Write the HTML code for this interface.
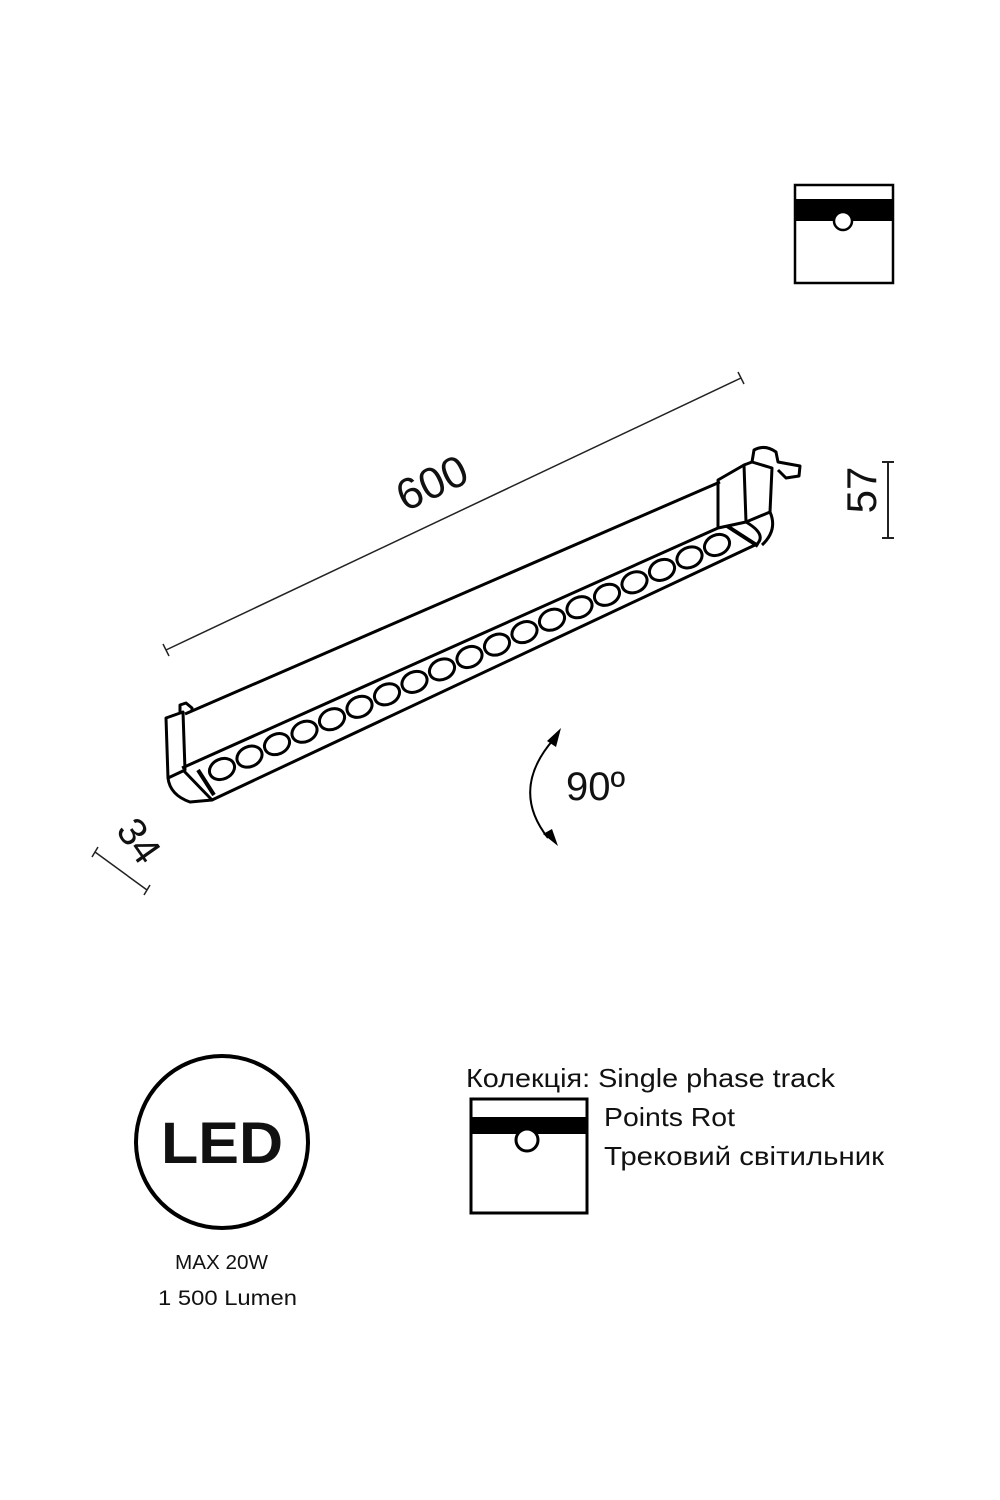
<!DOCTYPE html>
<html><head><meta charset="utf-8"><style>
html,body{margin:0;padding:0;background:#fff;}
svg{display:block;}
text{font-family:"Liberation Sans","DejaVu Sans",sans-serif;fill:#111;}
</style></head><body>
<svg width="1000" height="1500" viewBox="0 0 1000 1500" xmlns="http://www.w3.org/2000/svg">
<rect x="795" y="185" width="98" height="98" fill="none" stroke="#000" stroke-width="2.5"/>
<rect x="795" y="199" width="98" height="22" fill="#000"/>
<circle cx="843" cy="221" r="9" fill="#fff" stroke="#000" stroke-width="2.5"/>

<g stroke="#222" stroke-width="1.5" fill="none">
<line x1="166" y1="650" x2="741" y2="378"/>
<line x1="163" y1="644" x2="169" y2="656"/>
<line x1="738" y1="372" x2="744" y2="384"/>
</g>
<text x="432" y="498" font-size="44" transform="rotate(-25 432 483)" text-anchor="middle">600</text>

<g stroke="#000" stroke-width="3" fill="none" stroke-linejoin="round">
<line x1="185" y1="714" x2="720" y2="482"/>
<line x1="182" y1="768" x2="718" y2="528"/>
<line x1="212" y1="800" x2="755" y2="545"/>
<path d="M166 718 L183 712 L185 770 L168 778 Z"/>
<path d="M168 778 Q170 795 190 802 L212 800 L183 770"/>
<line x1="198" y1="770" x2="214" y2="795" stroke-width="4"/>
<path d="M180 712 L180 705 L186 703 L192 708 L192 712"/>
<path d="M718 480 L744 465 L746 522 L718 528 Z"/>
<path d="M744 465 L752 462 L772 468 L770 512 L746 522"/>
<path d="M746 522 Q768 535 756 545"/>
<path d="M770 512 Q778 530 762 545"/>
<line x1="727" y1="526" x2="758" y2="546" stroke-width="4"/>
<path d="M752 462 L754 450 Q765 444 776 452 L778 462 L800 466 L799 476 L786 478 L778 470"/>
</g>
<g stroke="#000" stroke-width="3" fill="#fff">
<ellipse cx="222" cy="769" rx="13" ry="10" transform="rotate(-24 222 769)"/>
<ellipse cx="249.5" cy="756.6" rx="13" ry="10" transform="rotate(-24 249.5 756.6)"/>
<ellipse cx="277" cy="744.1" rx="13" ry="10" transform="rotate(-24 277 744.1)"/>
<ellipse cx="304.5" cy="731.7" rx="13" ry="10" transform="rotate(-24 304.5 731.7)"/>
<ellipse cx="332" cy="719.2" rx="13" ry="10" transform="rotate(-24 332 719.2)"/>
<ellipse cx="359.5" cy="706.8" rx="13" ry="10" transform="rotate(-24 359.5 706.8)"/>
<ellipse cx="387" cy="694.3" rx="13" ry="10" transform="rotate(-24 387 694.3)"/>
<ellipse cx="414.5" cy="681.9" rx="13" ry="10" transform="rotate(-24 414.5 681.9)"/>
<ellipse cx="442" cy="669.4" rx="13" ry="10" transform="rotate(-24 442 669.4)"/>
<ellipse cx="469.5" cy="657" rx="13" ry="10" transform="rotate(-24 469.5 657)"/>
<ellipse cx="497" cy="644.6" rx="13" ry="10" transform="rotate(-24 497 644.6)"/>
<ellipse cx="524.5" cy="632.1" rx="13" ry="10" transform="rotate(-24 524.5 632.1)"/>
<ellipse cx="552" cy="619.7" rx="13" ry="10" transform="rotate(-24 552 619.7)"/>
<ellipse cx="579.5" cy="607.2" rx="13" ry="10" transform="rotate(-24 579.5 607.2)"/>
<ellipse cx="607" cy="594.8" rx="13" ry="10" transform="rotate(-24 607 594.8)"/>
<ellipse cx="634.5" cy="582.3" rx="13" ry="10" transform="rotate(-24 634.5 582.3)"/>
<ellipse cx="662" cy="569.9" rx="13" ry="10" transform="rotate(-24 662 569.9)"/>
<ellipse cx="689.5" cy="557.4" rx="13" ry="10" transform="rotate(-24 689.5 557.4)"/>
<ellipse cx="717" cy="545" rx="13" ry="10" transform="rotate(-24 717 545)"/>
</g>

<g stroke="#222" stroke-width="2" fill="none">
<line x1="888" y1="462" x2="888" y2="538"/>
<line x1="882" y1="462" x2="894" y2="462"/>
<line x1="882" y1="538" x2="894" y2="538"/>
</g>
<text font-size="42" transform="translate(876 490) rotate(-90)" text-anchor="middle">57</text>

<g stroke="#222" stroke-width="1.5" fill="none">
<line x1="95" y1="852" x2="147" y2="890"/>
<line x1="92" y1="857" x2="98" y2="847"/>
<line x1="144" y1="895" x2="150" y2="885"/>
</g>
<text x="140" y="855" font-size="40" transform="rotate(55 140 840)" text-anchor="middle">34</text>

<path d="M553 740 Q510 790 548 838" fill="none" stroke="#000" stroke-width="2"/>
<polygon points="561,728 547,741 556,747" fill="#000"/>
<polygon points="558,846 543,834 552,829" fill="#000"/>
<text x="566" y="800" font-size="40">90º</text>

<circle cx="222" cy="1142" r="86" fill="none" stroke="#000" stroke-width="4"/>
<text x="222" y="1163" font-size="58" font-weight="bold" text-anchor="middle" textLength="122" lengthAdjust="spacingAndGlyphs">LED</text>
<text x="175" y="1269" font-size="20" textLength="93" lengthAdjust="spacingAndGlyphs">MAX 20W</text>
<text x="158" y="1305" font-size="21" textLength="139" lengthAdjust="spacingAndGlyphs">1 500 Lumen</text>

<rect x="471" y="1099" width="116" height="114" fill="none" stroke="#000" stroke-width="3"/>
<rect x="471" y="1117" width="116" height="17" fill="#000"/>
<circle cx="527" cy="1140" r="11" fill="#fff" stroke="#000" stroke-width="3"/>

<text x="466" y="1087" font-size="26" textLength="369" lengthAdjust="spacingAndGlyphs">Колекція: Single phase track</text>
<text x="604" y="1126" font-size="26" textLength="131" lengthAdjust="spacingAndGlyphs">Points Rot</text>
<text x="604" y="1165" font-size="26" textLength="280" lengthAdjust="spacingAndGlyphs">Трековий світильник</text>
</svg>
</body></html>
